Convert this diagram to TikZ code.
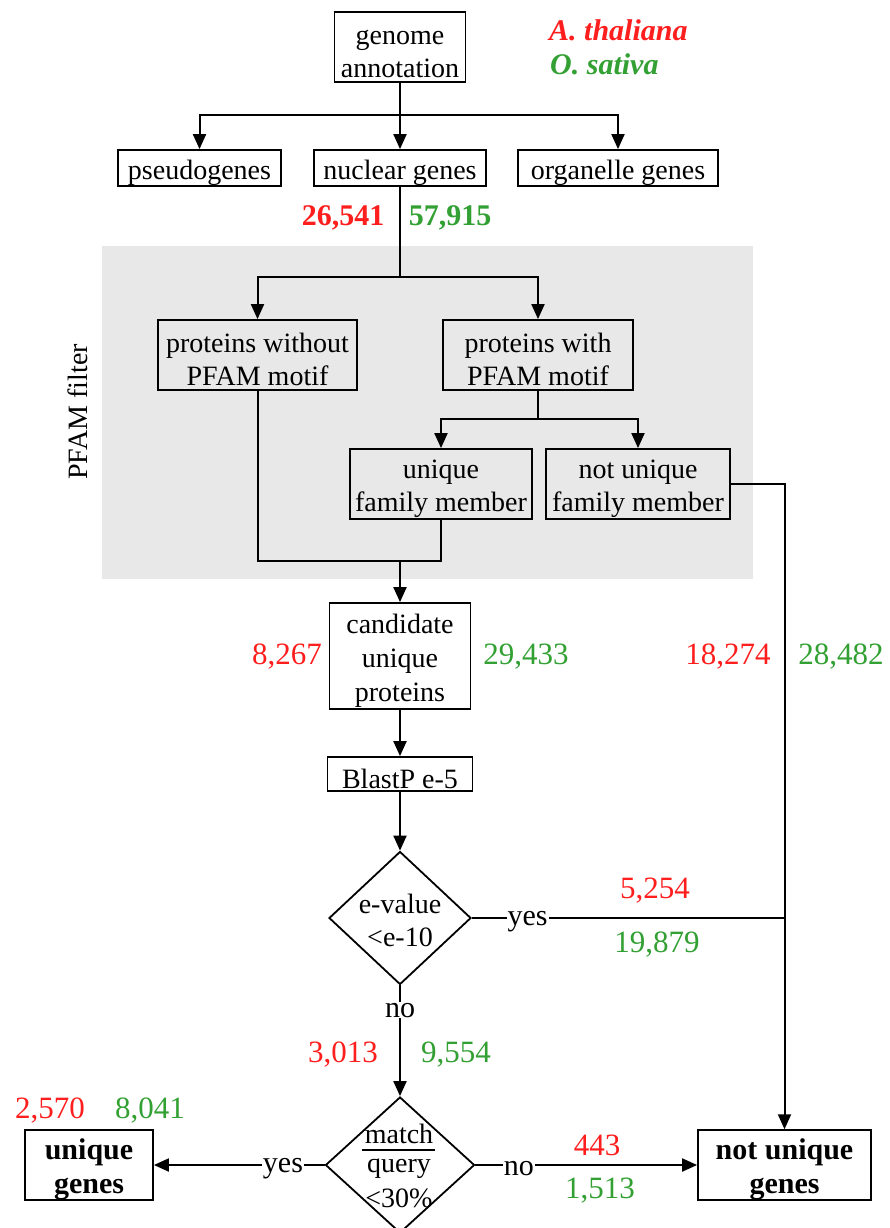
\documentclass[tikz,border=0pt]{standalone}
\usepackage{fontspec}
\setmainfont{Liberation Serif}
\usetikzlibrary{shapes.geometric,arrows.meta}
\definecolor{spred}{RGB}{255,30,30}
\definecolor{spgreen}{RGB}{50,160,50}
\definecolor{panel}{RGB}{232,232,232}
% a tall strut that lowers box text a little inside its frame
\newcommand\lowstrut{\rule{0pt}{29pt}}
\begin{document}
\begin{tikzpicture}[x=1pt,y=-1pt,
  boxtxt/.style={font=\fontsize{28}{33}\selectfont},
  box/.style={draw, line width=1.8pt, inner sep=0pt, align=center, boxtxt},
  bbox/.style={box, font=\fontsize{30}{34}\selectfont\bfseries},
  dia/.style={draw, diamond, line width=1.8pt, inner sep=0pt},
  wire/.style={line width=2pt},
  arr/.style={wire, -{Triangle[length=15pt,width=13pt]}},
  num/.style={font=\fontsize{31}{31}\selectfont, inner sep=0pt, yshift=-3pt},
  bnum/.style={font=\fontsize{30}{30}\selectfont\bfseries, inner sep=0pt, yshift=-3pt},
  lbl/.style={font=\fontsize{30}{30}\selectfont, fill=white, inner sep=1pt, yshift=-4pt},
  red/.style={text=spred}, green/.style={text=spgreen}]
\useasboundingbox (0,0) rectangle (890,1228);
\fill[white] (0,0) rectangle (890,1228);

% PFAM filter panel
\fill[panel] (102,246) rectangle (753,579);
\node[boxtxt, rotate=90] (pf) at (78,412) {PFAM filter};

% legend
\node[font=\fontsize{30}{30}\selectfont\bfseries\itshape, text=spred, anchor=west, inner sep=0pt] (lat) at (549,30) {A. thaliana};
\node[font=\fontsize{30}{30}\selectfont\bfseries\itshape, text=spgreen, anchor=west, inner sep=0pt] (los) at (550,64) {O. sativa};

% boxes
\node[box, minimum width=131pt, minimum height=70pt] (ga) at (400,47) {\lowstrut genome\\annotation};
\node[box, minimum width=163pt, minimum height=36pt] (pg) at (199.5,168) {\lowstrut pseudogenes};
\node[box, minimum width=172pt, minimum height=36pt] (ng) at (400,168) {\lowstrut nuclear genes};
\node[box, minimum width=200pt, minimum height=36pt] (og) at (618,168) {\lowstrut organelle genes};
\node[box, minimum width=199pt, minimum height=70pt] (pw) at (257.5,355) {\lowstrut proteins without\\PFAM motif};
\node[box, minimum width=190pt, minimum height=70pt] (pm) at (538,355) {\lowstrut proteins with\\PFAM motif};
\node[box, minimum width=182pt, minimum height=70pt] (uf) at (441,484) {\lowstrut unique\\family member};
\node[box, minimum width=184pt, minimum height=70pt] (nf) at (638,484) {\lowstrut not unique\\family member};
\node[box, minimum width=141pt, minimum height=106pt, font=\fontsize{28}{34}\selectfont] (cu) at (400,656) {\lowstrut candidate\\unique\\proteins};
\node[box, minimum width=145pt, minimum height=34pt] (bp) at (400,774) {\lowstrut BlastP e-5};
\node[dia, minimum width=142pt, minimum height=133pt] (d1) at (400,918) {};
\node[boxtxt, align=center, inner sep=0pt, yshift=-2pt] (d1t) at (d1.center) {e-value\\<e-10};
\node[dia, minimum width=149pt, minimum height=136pt] (d2) at (400,1165) {};
\node[boxtxt, inner sep=0pt] (d2a) at (399,1134) {match};
\node[boxtxt, inner sep=0pt] (d2b) at (399,1169) {query};
\node[boxtxt, inner sep=0pt] (d2c) at (399,1198) {<30\%};
\draw[wire] (362,1150) -- (435,1150);
\node[bbox, minimum width=128pt, minimum height=67pt] (ug) at (89,1165) {\lowstrut unique\\genes};
\node[bbox, minimum width=173pt, minimum height=69pt] (nug) at (784.5,1165) {\lowstrut not unique\\genes};

% junctions
\coordinate (j1) at (400,115);
\coordinate (j2) at (400,277);
\coordinate (j3) at (538,419);
\coordinate (j4) at (400,561);

% connectors
\draw[wire] (ga.south) -- (j1);
\draw[arr] (j1) -| (pg.north);
\draw[arr] (j1) -- (ng.north);
\draw[arr] (j1) -| (og.north);
\draw[wire] (ng.south) -- (j2);
\draw[arr] (j2) -| (pw.north);
\draw[arr] (j2) -| (pm.north);
\draw[wire] (pm.south) -- (j3);
\draw[arr] (j3) -| (uf.north);
\draw[arr] (j3) -| (nf.north);
\draw[wire] (pw.south) |- (j4) -| (uf.south);
\draw[arr] (j4) -- (cu.north);
\draw[arr] (cu.south) -- (bp.north);
\draw[arr] (bp.south) -- (d1.north);
\draw[arr] (nf.east) -| (nug.north);
\draw[wire] (d1.east) -- node[lbl, pos=0.178] (y1) {yes} (nug.north |- d1.east);
\draw[arr] (d1.south) -- node[lbl, pos=0.205, yshift=2pt] (n1) {no} (d2.north);
\draw[arr] (d2.west) -- node[lbl, pos=0.244] (y2) {yes} (ug.east);
\draw[arr] (d2.east) -- node[lbl, pos=0.196] (n2) {no} (nug.west);

% counts
\node[bnum, red] (c1r) at (343,215) {26,541};
\node[bnum, green] (c1g) at (450,215) {57,915};
\node[num, red] (c2r) at (287,654) {8,267};
\node[num, green] (c2g) at (526,654) {29,433};
\node[num, red] (c3r) at (728,654) {18,274};
\node[num, green] (c3g) at (841,654) {28,482};
\node[num, red] (c4r) at (655,888) {5,254};
\node[num, green] (c4g) at (657,942) {19,879};
\node[num, red] (c5r) at (343,1052) {3,013};
\node[num, green] (c5g) at (456,1052) {9,554};
\node[num, red] (c6r) at (50,1108) {2,570};
\node[num, green] (c6g) at (150,1108) {8,041};
\node[num, red] (c7r) at (597,1142) {443};
\node[num, green] (c7g) at (600,1188) {1,513};
\end{tikzpicture}
\end{document}
